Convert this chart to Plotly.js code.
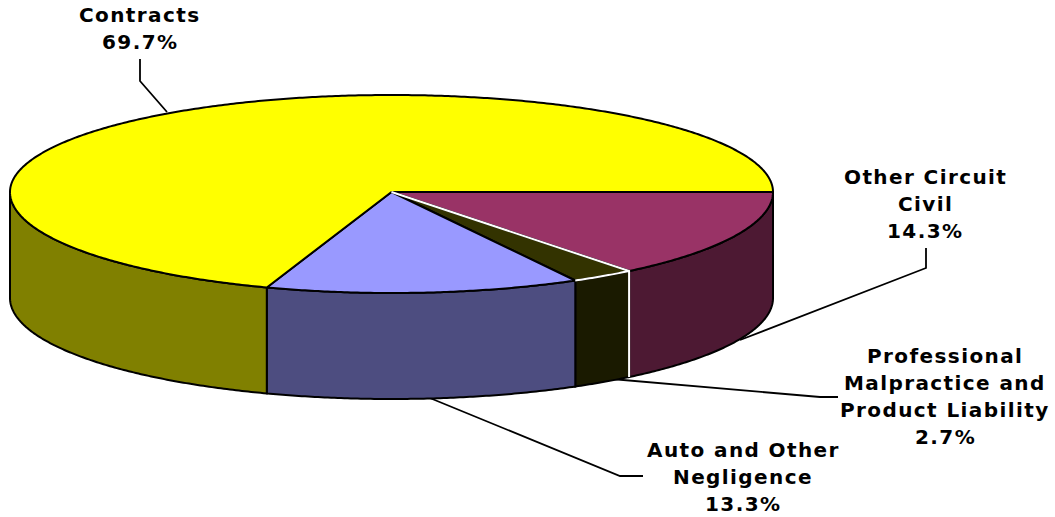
<!DOCTYPE html>
<html><head><meta charset="utf-8">
<script src="https://cdn.plot.ly/plotly-3.0.1.min.js"></script>
<style>html,body{margin:0;padding:0;background:#fff}#c{width:1055px;height:517px}
.annotation-text{letter-spacing:1.4px}</style>
</head><body><div id="c"></div>
<script>
const categories = ["Other Circuit Civil","Professional Malpractice and Product Liability","Auto and Other Negligence","Contracts"];
const shares = [14.3, 2.7, 13.3, 69.7];
const topColors = ["#993366","#333300","#9999FF","#FFFF00"];
const wallColors = ["#4D1933","#1A1A00","#4D4D80","#808000"];
const labelLines = [
  ["Other Circuit","Civil","14.3%"],
  ["Professional","Malpractice and","Product Liability","2.7%"],
  ["Auto and Other","Negligence","13.3%"],
  ["Contracts","69.7%"]
];

// pie projection, in axis units (the axes map 1:1 to the page)
const cx = 391.5, cy = 192, rx = 381.5, ryTop = 97, ryBottom = 101, depth = 106;
const W = 1055, H = 517, STEP = 0.5;

function rim(deg, drop) {
  const a = deg * Math.PI / 180, s = Math.sin(a);
  return [cx + rx * Math.cos(a), cy + (s >= 0 ? ryBottom : ryTop) * s + (drop || 0)];
}
function arc(a0, a1, drop) {
  const pts = [];
  const n = Math.max(1, Math.ceil(Math.abs(a1 - a0) / STEP));
  for (let i = 0; i <= n; i++) pts.push(rim(a0 + (a1 - a0) * i / n, drop));
  return pts;
}
function poly(pts, fill, line, width) {
  const closed = pts.concat([pts[0]]);
  return {
    type: "scatter", mode: "lines", x: closed.map(p => p[0]), y: closed.map(p => p[1]),
    fill: fill ? "toself" : "none", fillcolor: fill || undefined,
    line: {color: line, width: width, simplify: false}, hoverinfo: "skip", showlegend: false
  };
}
function path(pts, line, width) {
  return {
    type: "scatter", mode: "lines", x: pts.map(p => p[0]), y: pts.map(p => p[1]),
    line: {color: line, width: width, simplify: false}, hoverinfo: "skip", showlegend: false
  };
}

const total = shares.reduce((a, b) => a + b, 0);
const bounds = [];
let run = 0;
shares.forEach(v => { const s = run; run += v; bounds.push([s / total * 360, run / total * 360]); });

const traces = [];
const LW = 2;

// leader lines (sit behind the pie)
traces.push(path([[140,59],[140,81],[167,112]], "#000", 1.8));
traces.push(path([[926,248],[926,268],[740,340]], "#000", 1.8));
traces.push(path([[600,378],[820,397],[838,397]], "#000", 1.8));
traces.push(path([[425,396],[620,476],[643,476]], "#000", 1.8));

// walls: only the front half (0..180 deg) is visible
bounds.forEach((b, i) => {
  const a0 = Math.max(b[0], 0), a1 = Math.min(b[1], 180);
  if (a1 <= a0) return;
  const pts = arc(a0, a1, 0).concat(arc(a1, a0, depth));
  traces.push(poly(pts, wallColors[i], "#000", LW));
});

// tops
bounds.forEach((b, i) => {
  const pts = [[cx, cy]].concat(arc(b[0], b[1], 0));
  traces.push(poly(pts, topColors[i], "#000", LW));
});

// white edge of the small slice: radial, rim arc and vertical seam
const seam = bounds[0][1], seam2 = bounds[1][1];
traces.push(path([[cx, cy], rim(seam, 0), rim(seam, depth)], "#FFF", 2));
traces.push(path(arc(seam, seam2, 0), "#FFF", 2));

const labelAnchors = [[925,177],[945,356],[743,450],[140,15]];
const LINE = 27;
const annotations = [];
labelLines.forEach((lines, i) => {
  lines.forEach((t, j) => annotations.push({
    x: labelAnchors[i][0], y: labelAnchors[i][1] + j * LINE, xref: "x", yref: "y",
    text: "<b>" + t + "</b>", showarrow: false, xanchor: "center", yanchor: "middle",
    font: {family: "DejaVu Sans, Verdana, sans-serif", size: 20, color: "#000"}
  }));
});

const hidden = {visible: false, fixedrange: true, zeroline: false, showgrid: false};
Plotly.newPlot("c", traces, {
  width: W, height: H, margin: {l: 0, r: 0, t: 0, b: 0},
  paper_bgcolor: "#fff", plot_bgcolor: "#fff", showlegend: false,
  xaxis: Object.assign({range: [0, W]}, hidden),
  yaxis: Object.assign({range: [H, 0]}, hidden),
  annotations: annotations
}, {displayModeBar: false, staticPlot: true});
</script></body></html>
